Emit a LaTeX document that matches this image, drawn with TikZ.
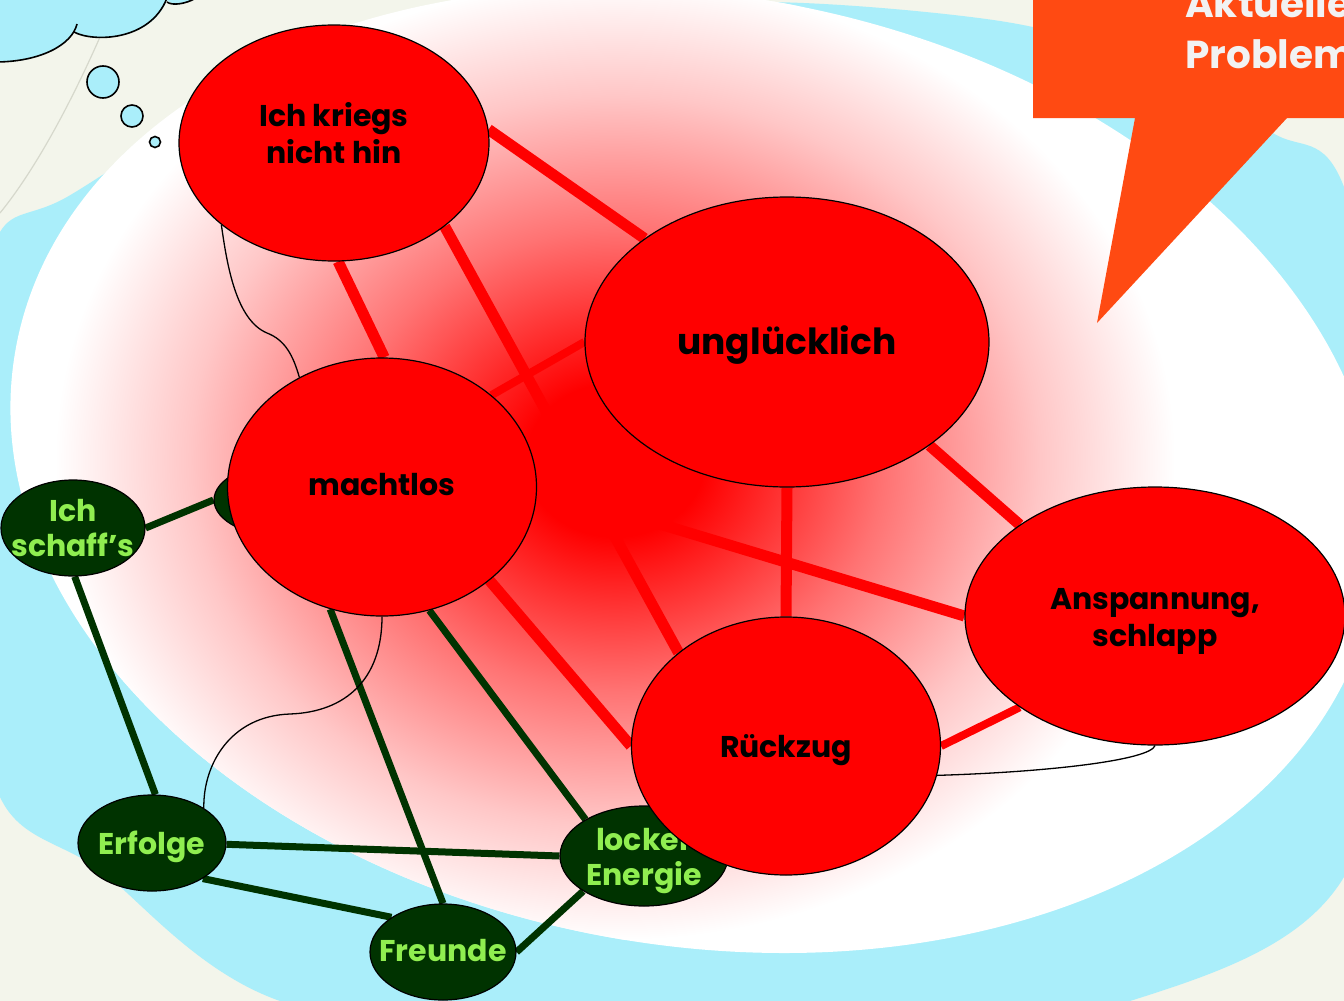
\documentclass[tikz,border=0pt]{standalone}
\usepackage{fontspec}
\setmainfont{Poppins}
\usetikzlibrary{shapes.geometric}
\definecolor{cream}{HTML}{F3F5EB}
\definecolor{cyanbg}{HTML}{AAEEFA}
\definecolor{nodered}{HTML}{FF0000}
\definecolor{dkgreen}{HTML}{003300}
\definecolor{ltgreen}{HTML}{90EE50}
\definecolor{callout}{HTML}{FF4A12}
\definecolor{callouttext}{HTML}{F2F2F2}
\definecolor{grayline}{HTML}{D6D8CC}
\pgfdeclareradialshading{redglow}{\pgfpoint{0bp}{0bp}}{color(0bp)=(red); color(4bp)=(red); color(12bp)=(red!55!white); color(19bp)=(red!22!white); color(25bp)=(white); color(50bp)=(white)}
\pgfdeclarelayer{bg}
\pgfdeclarelayer{gl}
\pgfdeclarelayer{gn}
\pgfdeclarelayer{rl}
\pgfsetlayers{bg,gl,gn,rl,main}
\newcommand{\ttx}[2]{\raisebox{#1}[\height][\depth]{\begin{tabular}{@{}c@{}}#2\end{tabular}}}
\begin{document}
\begin{tikzpicture}[x=1pt,y=-1pt,
  rednode/.style={ellipse, draw=black, line width=1.2pt, fill=nodered, inner sep=-30pt, text=black, font=\bfseries\fontsize{30}{37}\selectfont},
  greennode/.style={ellipse, draw=black, line width=1.2pt, fill=dkgreen, inner sep=-30pt, text=ltgreen, font=\bfseries\fontsize{30}{35}\selectfont},
  redline/.style={draw=nodered, line width=11pt},
  thinred/.style={draw=nodered, line width=8pt},
  greenline/.style={draw=dkgreen, line width=7pt},
  thinline/.style={draw=black, line width=1.3pt},
  bubble/.style={fill=cyanbg, draw=black, line width=1.6pt},
  calltext/.style={anchor=base west, text=callouttext, font=\bfseries\fontsize{39}{49}\selectfont, inner sep=0pt}
]
\useasboundingbox (0,0) rectangle (1344,1001);
\begin{pgfonlayer}{bg}
  \fill[cream] (0,0) rectangle (1344,1001);
  \draw[grayline, line width=1.2pt] (100,37) .. controls (70,105) and (35,170) .. (0,213);
  \fill[cyanbg] plot[smooth cycle, tension=0.5] coordinates {(0,232) (67,197) (250,90) (500,22) (760,2) (1000,21) (1150,62) (1273,133) (1344,187) (1420,520) (1344,877) (1130,1001) (700,1080) (280,1001) (100,870) (0,797) (-45,560) (-30,360)};
  \fill[white, rotate around={-10:(695,470)}] (695,470) ellipse (690pt and 475pt);
  \begin{scope}
    \clip[rotate around={-10:(695,470)}] (695,470) ellipse (690pt and 475pt);
    \shade[shading=redglow] (615,460) ellipse (560pt and 480pt);
  \end{scope}
  % cloud
  \fill[cyanbg] (-5,-5) -- (-5,62) -- (0,62) .. controls (40,62) and (72,45) .. (77,25) -- (75,33) .. controls (92,42) and (150,42) .. (167,0) -- (167,-5) -- cycle;
  \fill[cyanbg] (167,0) .. controls (172,6) and (186,4) .. (196,-2) -- (167,-5) -- cycle;
  \draw[black, line width=1.6pt] (-5,62) .. controls (40,62) and (72,45) .. (77,24);
  \draw[black, line width=1.6pt] (74,32) .. controls (92,42) and (150,42) .. (167,-2);
  \draw[black, line width=1.6pt] (167,2) .. controls (172,6) and (186,4) .. (196,-2);
  \draw[bubble] (103,82) circle (16pt);
  \draw[bubble] (132,116) circle (11pt);
  \draw[bubble] (155,142) circle (5.5pt);
  % callout
  \fill[callout] (1033,-5) -- (1033,118) -- (1135,118) -- (1097,323) -- (1287,118) -- (1350,118) -- (1350,-5) -- cycle;
  \node[calltext] (ct1) at (1185,17) {Aktuelle};
  \node[calltext] (ct2) at (1185,68) {Probleme};
\end{pgfonlayer}

% green nodes
\begin{pgfonlayer}{gn}
  \node[greennode, minimum width=144pt, minimum height=96pt] (schaff) at (73,528) {\ttx{-4pt}{Ich\\schaff’s}};
  \node[greennode, minimum width=150pt, minimum height=76pt] (hid) at (289,500) {};
  \node[greennode, minimum width=148pt, minimum height=96pt] (erf) at (152,843) {\ttx{-4pt}{Erfolge}};
  \node[greennode, minimum width=146pt, minimum height=96pt] (freu) at (443,952) {\ttx{-2pt}{Freunde}};
  \node[greennode, minimum width=168pt, minimum height=100pt] (lock) at (644,856) {\ttx{-5pt}{locker\\Energie}};
\end{pgfonlayer}

% red nodes
\node[rednode, minimum width=310pt, minimum height=236pt] (ik) at (334,143) {\ttx{5pt}{Ich kriegs\\nicht hin}};
\node[rednode, minimum width=404pt, minimum height=290pt, font=\bfseries\fontsize{36}{40}\selectfont] (ung) at (787,342) {\ttx{-4pt}{unglücklich}};
\node[rednode, minimum width=309pt, minimum height=258pt] (mach) at (382,487) {\ttx{-1pt}{machtlos}};
\node[rednode, minimum width=380pt, minimum height=258pt] (ansp) at (1155,616) {\ttx{-5pt}{Anspannung,\\schlapp}};
\node[rednode, minimum width=309pt, minimum height=258pt] (rz) at (786,746) {\ttx{-4pt}{Rückzug}};

% green connectors
\begin{pgfonlayer}{gl}
  \draw[greenline] (schaff.0) -- (hid.180);
  \draw[greenline] (schaff.-88) -- (erf.86);
  \draw[greenline] (erf.-1) -- (lock.180);
  \draw[greenline] (erf.-35) -- (freu.146.6);
  \draw[greenline] (mach.-113) -- (freu.90);
  \draw[greenline] (mach.-69.7) -- (lock.148.6);
  \draw[greenline] (freu.0) -- (lock.210);
\end{pgfonlayer}

% red connectors and thin curves
\begin{pgfonlayer}{rl}
  \draw[redline] (ik.5) -- (ung.144.3);
  \draw[redline] (ik.-88) -- (mach.89);
  \draw[redline] (ik.-37) -- (rz.139.5);
  \draw[thinred] (mach.40.6) -- (ung.180);
  \draw[redline] (mach.0) -- (ansp.180);
  \draw[redline] (mach.-41.5) -- (rz.180);
  \draw[redline] (ung.-90) -- (rz.90);
  \draw[redline] (ung.-36.7) -- (ansp.146.2);
  \draw[thinred] (rz.0) -- (ansp.214.7);
  \draw[thinline] (ik.216) .. controls (227,265) and (236,320) .. (267,333) .. controls (285,340) and (293,355) .. (mach.127.5);
  \draw[thinline] (mach.-90) .. controls (382,680) and (345,712) .. (290,714) .. controls (230,716) and (203,765) .. (erf.34.5);
  \draw[thinline] (ansp.-90) .. controls (1150,760) and (1050,772) .. (rz.-11);
\end{pgfonlayer}
\end{tikzpicture}
\end{document}
